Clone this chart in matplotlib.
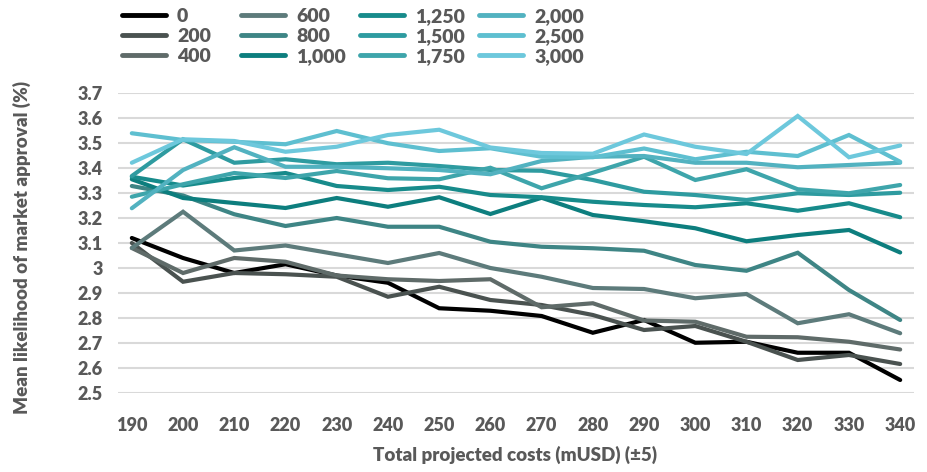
import matplotlib
matplotlib.use("Agg")
import matplotlib.pyplot as plt
from matplotlib.ticker import FuncFormatter

# projected costs (x axis)
costs = [190, 200, 210, 220, 230, 240, 250, 260, 270, 280, 290, 300, 310, 320, 330, 340]

# mean likelihood of approval per series
s0    = [3.12, 3.04, 2.98, 3.015, 2.97, 2.941, 2.839, 2.829, 2.808, 2.741, 2.792, 2.701, 2.705, 2.661, 2.661, 2.552]
s200  = [3.10, 2.945, 2.98, 2.975, 2.965, 2.885, 2.925, 2.872, 2.852, 2.812, 2.752, 2.768, 2.705, 2.632, 2.652, 2.616]
s400  = [3.08, 2.98, 3.04, 3.025, 2.97, 2.955, 2.948, 2.955, 2.843, 2.859, 2.79, 2.785, 2.725, 2.723, 2.705, 2.674]
s600  = [3.08, 3.225, 3.07, 3.09, 3.055, 3.02, 3.06, 3.00, 2.965, 2.92, 2.916, 2.879, 2.896, 2.779, 2.815, 2.739]
s800  = [3.328, 3.29, 3.215, 3.168, 3.20, 3.165, 3.165, 3.105, 3.085, 3.079, 3.069, 3.012, 2.989, 3.061, 2.912, 2.792]
s1000 = [3.355, 3.28, 3.26, 3.24, 3.28, 3.245, 3.283, 3.216, 3.281, 3.212, 3.187, 3.159, 3.107, 3.132, 3.152, 3.062]
s1250 = [3.365, 3.33, 3.36, 3.38, 3.328, 3.312, 3.325, 3.292, 3.283, 3.265, 3.252, 3.243, 3.259, 3.229, 3.259, 3.203]
s1500 = [3.368, 3.515, 3.421, 3.435, 3.415, 3.421, 3.408, 3.392, 3.389, 3.352, 3.305, 3.292, 3.272, 3.299, 3.292, 3.301]
s1750 = [3.285, 3.335, 3.38, 3.36, 3.388, 3.359, 3.355, 3.401, 3.319, 3.381, 3.445, 3.352, 3.395, 3.315, 3.299, 3.332]
s2000 = [3.239, 3.392, 3.483, 3.405, 3.405, 3.399, 3.392, 3.375, 3.428, 3.445, 3.448, 3.421, 3.421, 3.403, 3.412, 3.421]
s2500 = [3.539, 3.512, 3.505, 3.495, 3.548, 3.499, 3.468, 3.479, 3.445, 3.443, 3.478, 3.435, 3.465, 3.448, 3.532, 3.425]
s3000 = [3.421, 3.515, 3.508, 3.465, 3.485, 3.532, 3.553, 3.482, 3.46, 3.457, 3.534, 3.485, 3.456, 3.608, 3.443, 3.49]

labels = ["0", "200", "400", "600", "800", "1,000",
          "1,250", "1,500", "1,750", "2,000", "2,500", "3,000"]
series = [s0, s200, s400, s600, s800, s1000, s1250, s1500, s1750, s2000, s2500, s3000]
colors = ["#000000", "#4a5250", "#5f6b69", "#5d7b7b", "#3e8585", "#0d7e7e",
          "#178b8b", "#2e9ba0", "#3ea5ab", "#52b2c0", "#5ebfd0", "#6dc8dc"]

plt.rcParams["font.family"] = ["Lato", "DejaVu Sans"]
txt = "#595959"

fig = plt.figure(figsize=(9.28, 4.72), dpi=100)
ax = fig.add_axes([118/928, 1-393/472, (914-118)/928, 300/472])

handles = []
for ys, lab, c in zip(series, labels, colors):
    h, = ax.plot(costs, ys, color=c, lw=3, solid_capstyle="round", solid_joinstyle="miter", label=lab)
    handles.append(h)

ax.set_xlim(187.3, 342.7)
ax.set_ylim(2.5, 3.7)
ax.set_xticks(costs)
ax.set_yticks([2.5 + 0.1*i for i in range(13)])
ax.yaxis.set_major_formatter(FuncFormatter(lambda v, p: f"{round(v, 1):g}"))
ax.grid(axis="y", color="#d9d9d9", lw=1.5)
ax.set_axisbelow(True)
for s in ax.spines.values():
    s.set_visible(False)
ax.tick_params(length=0, labelsize=13, labelcolor=txt)
ax.tick_params(axis="x", pad=17)
ax.tick_params(axis="y", pad=11)
for t in ax.get_xticklabels() + ax.get_yticklabels():
    t.set_fontweight("heavy")

fig.text(515/928, 1-455/472, "Total projected costs (mUSD) (\u00b15)", ha="center", va="center",
         fontsize=13.5, fontweight="heavy", color=txt)
fig.text(22/928, 1-247/472, "Mean likelihood of market approval (%)", ha="center", va="center",
         rotation=90, fontsize=13.5, fontweight="heavy", color=txt)

# legend, one block per column so the columns sit on a fixed grid
col_x = [108, 227, 346, 465]
for i, cx in enumerate(col_x):
    leg = fig.legend(handles=handles[3*i:3*i+3], loc="upper left",
                     bbox_to_anchor=(cx/928, 1.012), frameon=False, ncol=1,
                     handlelength=2.3, handletextpad=0.55, labelspacing=0.15,
                     borderpad=0.2, prop={"size": 14, "weight": "heavy"})
    for t in leg.get_texts():
        t.set_color(txt)
    for l in leg.get_lines():
        l.set_linewidth(3.5)

fig.savefig("out.png", dpi=100)
